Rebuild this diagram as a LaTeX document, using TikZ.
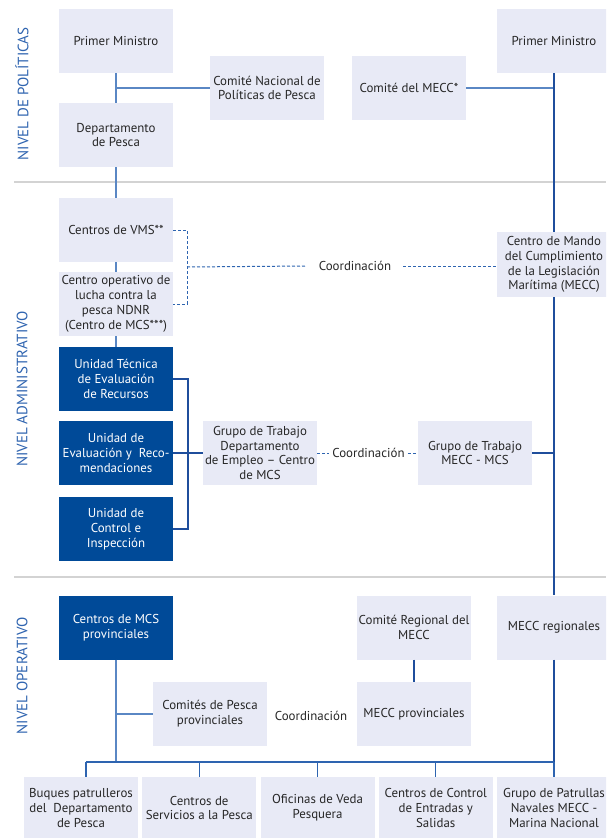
\documentclass[tikz,border=0pt]{standalone}
\usepackage{fontspec}
\setmainfont{PT Sans}
\usetikzlibrary{calc}
\definecolor{boxL}{HTML}{E8EAF6}
\definecolor{boxD}{HTML}{004A98}
\definecolor{lnL}{HTML}{5A87C4}
\definecolor{lnD}{HTML}{1F4E9C}
\definecolor{lnM}{HTML}{2E64B0}
\definecolor{lvl}{HTML}{2F64B0}
\definecolor{txt}{HTML}{262626}
\definecolor{sepc}{HTML}{D3D3D3}
\begin{document}
\begin{tikzpicture}[x=1pt,y=-1pt,
  lbox/.style={fill=boxL, minimum width=114pt, minimum height=64pt, inner sep=0pt, align=center, text=txt, font=\fontsize{12.9}{14.8}\selectfont},
  dbox/.style={lbox, fill=boxD, text=white},
  lvlab/.style={rotate=90, text=lvl, font=\fontsize{15}{18}\selectfont, inner sep=0pt},
  coord/.style={text=txt, font=\fontsize{12.9}{14.8}\selectfont, inner ysep=0pt},
  cL/.style={draw=lnL, line width=1.2pt},
  cD/.style={draw=lnD, line width=1.2pt},
  cM/.style={draw=lnM, line width=1.2pt},
  cdash/.style={draw=lnM, line width=1pt, dash pattern=on 3pt off 2pt},
  sepline/.style={draw=sepc, line width=1.3pt}]
\useasboundingbox (0,0) rectangle (606,838);
\clip (0,0) rectangle (606,838);
\fill[white] (0,0) rectangle (606,838);

% separators
\coordinate (s1a) at (14,182); \coordinate (s1b) at (606,182);
\coordinate (s2a) at (14,577); \coordinate (s2b) at (606,577);
\draw[sepline] (s1a) -- (s1b);
\draw[sepline] (s2a) -- (s2b);

% level labels
\node[lvlab] (lv1) at (22,94) {NIVEL DE POLÍTICAS};
\node[lvlab] (lv2) at (22,389) {NIVEL ADMINISTRATIVO};
\node[lvlab] (lv3) at (22,676) {NIVEL OPERATIVO};

% policy level
\node[lbox] (pm1) at (116,41) {Primer Ministro};
\node[lbox] (cnp) at (267,88) {Comité Nacional de\\Políticas de Pesca};
\node[lbox] (dep) at (116,135) {Departamento\\de Pesca};
\node[lbox] (cmecc) at (409,88) {Comité del MECC*};
\node[lbox] (pm2) at (554,41) {Primer Ministro};

% administrative level
\node[lbox] (vms) at (116,230) {Centros de VMS**};
\node[lbox] (cop) at (116,304) {Centro operativo de\\lucha contra la\\pesca NDNR\\(Centro de MCS***)};
\node[lbox, minimum height=65pt] (mando) at (554,264.5) {Centro de Mando\\del Cumplimiento\\de la Legislación\\Marítima (MECC)};
\node[dbox] (ut) at (116,379) {Unidad Técnica\\de Evaluación\\de Recursos};
\node[dbox] (ue) at (116,453) {Unidad de\\Evaluación y\ \ Reco-\\mendaciones};
\node[dbox] (uc) at (116,529) {Unidad de\\Control e\\Inspección};
\node[lbox] (gtd) at (260,453) {Grupo de Trabajo\\Departamento\hspace*{30pt}\\de Empleo – Centro\\de MCS};
\node[lbox] (gtm) at (475,453) {Grupo de Trabajo\\MECC - MCS};

% operative level
\node[dbox] (mcsp) at (116,627.5) {Centros de MCS\\provinciales};
\node[lbox] (crm) at (414,627.5) {Comité Regional del\\MECC};
\node[lbox] (mreg) at (554,627.5) {MECC regionales};
\node[lbox] (cpp) at (210,714) {Comités de Pesca\\provinciales};
\node[lbox] (mprov) at (414,714) {MECC provinciales};

% bottom row
\node[lbox, minimum height=62pt] (b1) at (81,808) {Buques patrulleros\\del\ \ Departamento\\de Pesca};
\node[lbox, minimum height=62pt] (b2) at (199.25,808) {Centros de\\Servicios a la Pesca};
\node[lbox, minimum height=62pt] (b3) at (317.5,808) {Oficinas de Veda\\Pesquera};
\node[lbox, minimum height=62pt] (b4) at (435.75,808) {Centros de Control\\de Entradas y\\Salidas};
\node[lbox, minimum height=62pt] (b5) at (554,808) {Grupo de Patrullas\\Navales MECC -\\Marina Nacional};

% coordination labels
\node[coord, inner xsep=12pt] (co1) at (355,266) {Coordinación};
\node[coord, inner xsep=3pt] (co2) at (368.5,453) {Coordinación};
\node[coord, inner xsep=3pt] (co3) at (311,716) {Coordinación};

% connectors - left column
\draw[cL] (pm1) -- (dep);
\draw[cL] (pm1.south |- cnp.west) -- (cnp.west);
\draw[cL] (dep) -- (vms);
\draw[cL] (vms) -- (cop);
\draw[cL] (cop) -- (ut);

% right column
\draw[cL] (cmecc.east) -- (pm2.south |- cmecc.east);
\draw[cD] (pm2) -- (mando);
\draw[cD] (mando) -- (mreg);
\draw[cD] (gtm.east) -- (mando.south |- gtm.east);

% dashed VMS bracket
\coordinate (bk1) at (187,230);
\coordinate (bk2) at (187,304);
\coordinate (bk3) at (187,267);
\draw[cdash] (vms.east) -- (bk1) -- (bk2) -- (cop.east);
\draw[cdash] (bk3) -- (co1.west);
\draw[cdash] (co1.east) -- (mando.west |- co1.east);

% units bracket
\coordinate (ub1) at (188,379);
\coordinate (ub2) at (188,529);
\draw[cD] (ut.east) -- (ub1) -- (ub2) -- (uc.east);
\draw[cD] (ue.east) -- (gtd.west);
\draw[cdash] (gtd.east) -- (co2.west);
\draw[cdash] (co2.east) -- (gtm.west);

% operative connectors
\coordinate (busL) at (86,762);
\coordinate (busR) at (554,762);
\draw[cL] (mcsp.south) -- (mcsp.south |- busL);
\draw[cL] (mcsp.south |- cpp.west) -- (cpp.west);
\draw[cD] (crm) -- (mprov);
\draw[cD] (mreg.south) -- (busR);
\draw[cM] (busL) -- (busR);
\draw[cM] (busL) -- ([xshift=5pt]b1.north);
\draw[cM] (b2.north |- busL) -- (b2.north);
\draw[cM] (b3.north |- busL) -- (b3.north);
\draw[cM] (b4.north |- busL) -- (b4.north);
\draw[cM] (busR) -- (b5.north);
\end{tikzpicture}
\end{document}
